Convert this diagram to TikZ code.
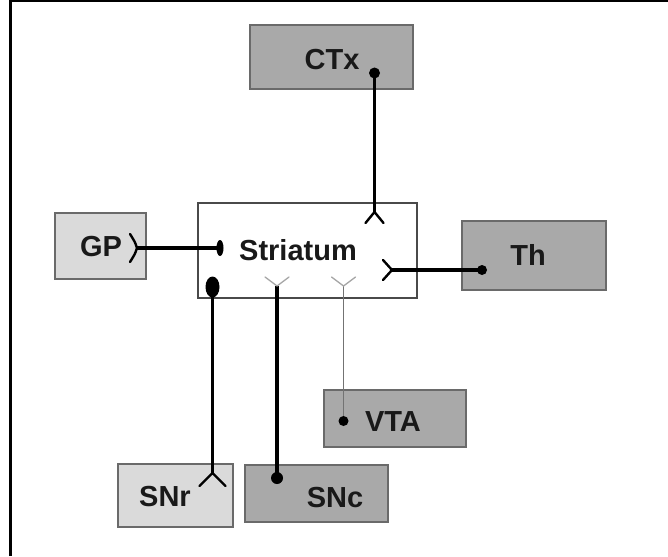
\documentclass[tikz,border=0pt]{standalone}
\usepackage{fontspec}
\setmainfont{Liberation Sans}
\usetikzlibrary{calc}
\definecolor{lightbox}{HTML}{DADADA}
\definecolor{midbox}{HTML}{A9A9A9}
\definecolor{edgegray}{HTML}{6A6A6A}
\definecolor{stredge}{HTML}{4A4A4A}
\tikzset{
  region/.style={draw=edgegray, line width=2pt, rectangle, inner sep=0pt, outer sep=0pt},
  lightregion/.style={region, fill=lightbox},
  midregion/.style={region, fill=midbox},
  striatumbox/.style={region, draw=stredge, fill=white},
  namelabel/.style={font=\fontsize{29}{32}\selectfont\bfseries, text=black!90, inner sep=0pt},
  axon/.style={line width=3.2pt, black},
  thinaxon/.style={line width=1.6pt, black!55},
  forkmark/.style={line width=2.4pt, black, line cap=round},
  lightforkmark/.style={line width=1.3pt, black!35, line cap=round},
  frameline/.style={black},
}
\begin{document}
\begin{tikzpicture}[x=1pt,y=-1pt]
\useasboundingbox (0,0) rectangle (668,556);
% frame
\draw[frameline, line width=3pt] (10.5,556) -- (10.5,0);
\draw[frameline, line width=2.4pt] (9,1.2) -- (668,1.2);

% boxes
\node[midregion, minimum width=163pt, minimum height=64pt] (ctx) at (331.5,57) {};
\node[striatumbox, minimum width=219pt, minimum height=95pt] (str) at (307.5,250.5) {};
\node[lightregion, minimum width=91pt, minimum height=66pt] (gp) at (100.5,246) {};
\node[midregion, minimum width=144pt, minimum height=69pt] (th) at (534,255.5) {};
\node[midregion, minimum width=142pt, minimum height=57pt] (vta) at (395,418.5) {};
\node[lightregion, minimum width=115pt, minimum height=63pt] (snr) at (175.5,495.5) {};
\node[midregion, minimum width=143pt, minimum height=57pt] (snc) at (316.5,493.5) {};

% labels
\node[namelabel] (ctxL) at (332,60) {CTx};
\node[namelabel] (strL) at (298,250) {Striatum};
\node[namelabel] (gpL) at (101,247) {GP};
\node[namelabel] (thL) at (528,255) {Th};
\node[namelabel] (vtaL) at (393,422) {VTA};
\node[namelabel] (snrL) at (165,497) {SNr};
\node[namelabel] (sncL) at (335,498) {SNc};

% end points
\coordinate (ctxDot) at (374.5,73);
\coordinate (ctxFork) at (374.5,212);
\coordinate (gpFork) at (137,248);
\coordinate (gpBar) at (220,248);
\coordinate (thFork) at (392,270);
\coordinate (thDot) at (482,270);
\coordinate (snrBlob) at (212.5,287);
\coordinate (snrFork) at (212.5,473);
\coordinate (sncFork) at (277,286);
\coordinate (sncDot) at (277,478);
\coordinate (vtaFork) at (343.5,286);
\coordinate (vtaDot) at (343.5,421);

% connectors
\draw[axon] (ctxDot) -- (ctxFork);
\draw[axon] (gpFork) -- (gpBar);
\draw[axon] (thFork) -- (thDot);
\draw[axon] (snrBlob) -- (snrFork);
\draw[axon] (sncFork) -- (sncDot);
\draw[thinaxon] (vtaFork) -- (vtaDot);

% dots
\fill (ctxDot) circle[radius=5.5];
\fill (thDot) circle[radius=5];
\fill (sncDot) circle[radius=6];
\fill (vtaDot) circle[radius=5];
\fill (gpBar) ellipse[x radius=3.5, y radius=8];
\fill (snrBlob) ellipse[x radius=7, y radius=10.5];

% forks
\draw[forkmark] (ctxFork) -- ++(-9,11) (ctxFork) -- ++(9,11);
\draw[forkmark] (gpFork) .. controls ++(-2,-6) .. ++(-7,-14)
                (gpFork) .. controls ++(-2,6) .. ++(-7,14);
\draw[forkmark] (thFork) -- ++(-9,-10) (thFork) -- ++(-9,10);
\draw[forkmark] (snrFork) -- ++(-13,13) (snrFork) -- ++(13,13);
\draw[lightforkmark] (sncFork) -- ++(-12,-9) (sncFork) -- ++(12,-9);
\draw[lightforkmark] (vtaFork) -- ++(-12,-9) (vtaFork) -- ++(12,-9);
\end{tikzpicture}
\end{document}
